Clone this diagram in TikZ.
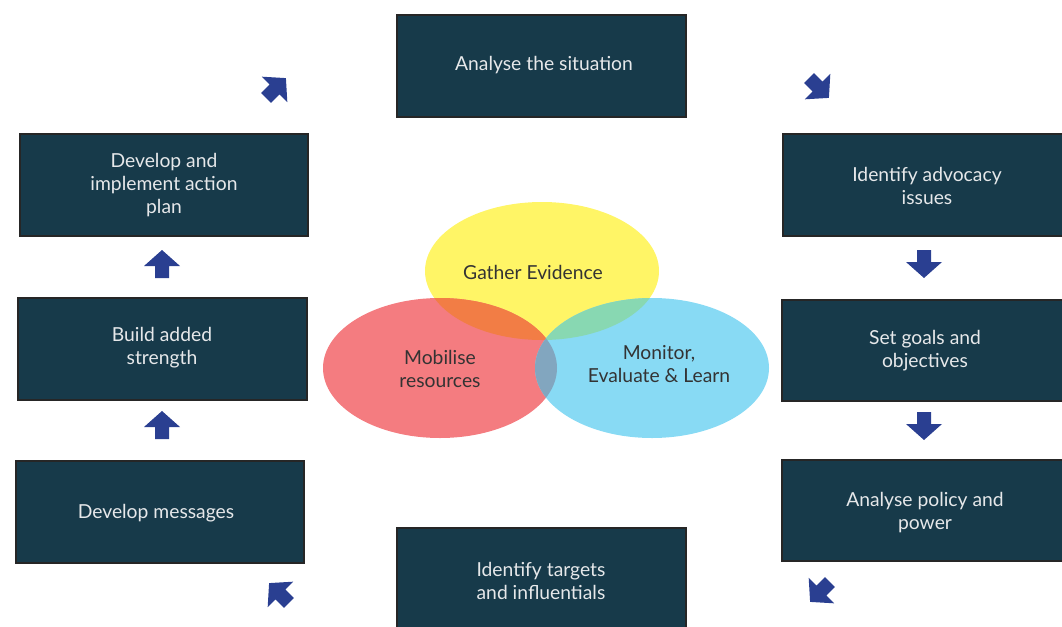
\documentclass[tikz,border=0pt]{standalone}
\usepackage{fontspec}
\setmainfont{Lato}
\definecolor{boxfill}{HTML}{173A4A}
\definecolor{boxtext}{HTML}{E6E8EA}
\definecolor{arrowblue}{HTML}{2A3F91}
\definecolor{vyellow}{HTML}{FFF566}
\definecolor{vred}{HTML}{F47C80}
\definecolor{vblue}{HTML}{88DAF4}
\definecolor{vorange}{HTML}{F27D45}
\definecolor{vgreen}{HTML}{88D8B2}
\definecolor{vsteel}{HTML}{82A6BF}
\definecolor{vtext}{HTML}{333333}
\tikzset{
  stepbox/.style={draw=black!85,line width=1.6pt,fill=boxfill},
  boxlabel/.style={text=boxtext,font=\fontsize{19.3}{23}\selectfont,align=center,inner sep=0pt},
  vennlabel/.style={text=vtext,font=\fontsize{19.3}{23}\selectfont,align=center,inner sep=0pt},
  blockarr/.pic={\fill[arrowblue] (0,-14) -- (18,2) -- (7,2) -- (7,14) -- (-7,14) -- (-7,2) -- (-18,2) -- cycle;}
}
\begin{document}
\begin{tikzpicture}[x=1pt,y=-1pt]
\useasboundingbox (0,0) rectangle (1062,626);
\begin{scope}
\clip (0,0) rectangle (1062,626);
% boxes
\draw[stepbox] (397,15) rectangle (686,117);
\draw[stepbox] (20,134) rectangle (308,236);
\draw[stepbox] (18,298) rectangle (307,400);
\draw[stepbox] (16,461) rectangle (304,563);
\draw[stepbox] (783,134) rectangle (1080,236);
\draw[stepbox] (782,300) rectangle (1080,401);
\draw[stepbox] (782,460) rectangle (1080,561);
\draw[stepbox] (397,528) rectangle (686,650);
\end{scope}
% labels
\node[boxlabel] (situation) at (544,65) {Analyse the situation};
\node[boxlabel] (actionplan) at (164,185) {Develop and\\implement action\\plan};
\node[boxlabel] (strength) at (162,348) {Build added\\strength};
\node[boxlabel] (messages) at (156,513) {Develop messages};
\node[boxlabel] (issues) at (927,186) {Identify advocacy\\issues};
\node[boxlabel] (goals) at (925,351) {Set goals and\\objectives};
\node[boxlabel] (policy) at (925,513) {Analyse policy and\\power};
\node[boxlabel] (targets) at (541,581) {Identify targets\\and influentials};
% arrows
\pic at (162,264) {blockarr};
\pic at (162,425) {blockarr};
\pic[rotate=180] at (924,264) {blockarr};
\pic[rotate=180] at (924,426) {blockarr};
\pic[rotate=-45] at (276,88) {blockarr};
\pic[rotate=-135] at (819,88) {blockarr};
\pic[rotate=135] at (820,592) {blockarr};
\pic[rotate=45] at (279,593) {blockarr};
% venn
\fill[vyellow] (542,271) ellipse [x radius=117, y radius=69];
\fill[vred] (440,368) ellipse [x radius=117, y radius=70];
\fill[vblue] (652,368) ellipse [x radius=117, y radius=70];
\begin{scope}
\clip (542,271) ellipse [x radius=117, y radius=69];
\fill[vorange] (440,368) ellipse [x radius=117, y radius=70];
\fill[vgreen] (652,368) ellipse [x radius=117, y radius=70];
\end{scope}
\begin{scope}
\clip (440,368) ellipse [x radius=117, y radius=70];
\fill[vsteel] (652,368) ellipse [x radius=117, y radius=70];
\end{scope}
\node[vennlabel] (evidence) at (533,272) {Gather Evidence};
\node[vennlabel] (resources) at (440,369) {Mobilise\\resources};
\node[vennlabel] (monitor) at (659,364) {Monitor,\\Evaluate \& Learn};
\end{tikzpicture}
\end{document}
